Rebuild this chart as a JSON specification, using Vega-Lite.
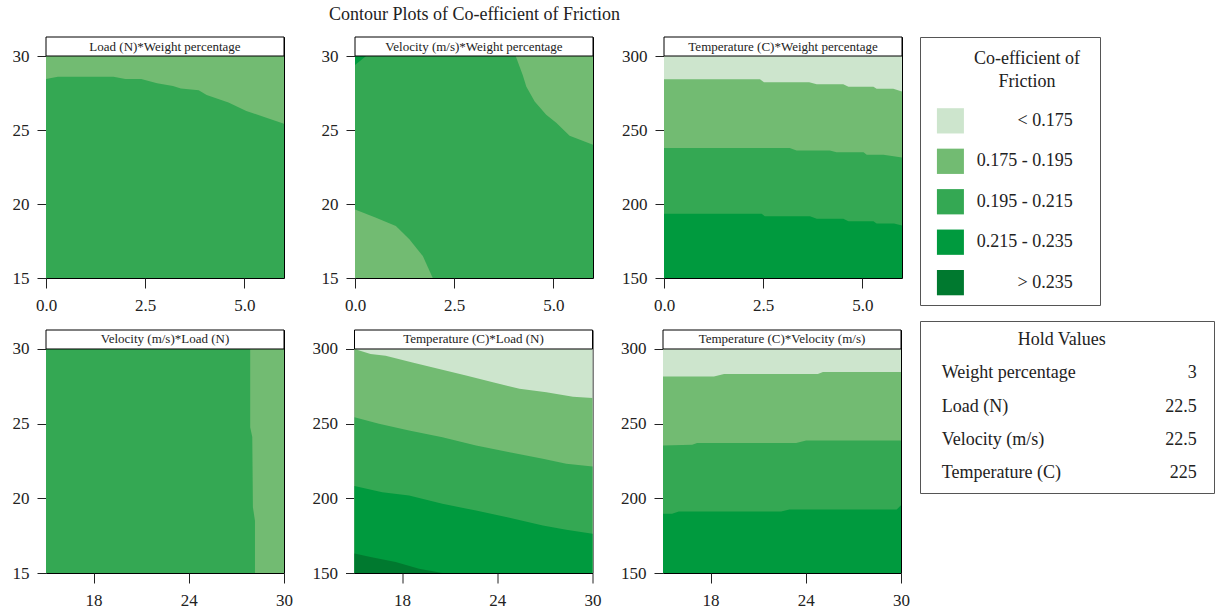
{
  "$schema": "https://vega.github.io/schema/vega-lite/v6.json",
  "background": "white",
  "padding": {"left": 0, "top": 6, "right": 0, "bottom": 0},
  "title": {"text": "Contour Plots of Co-efficient of Friction", "anchor": "middle", "dx": -133, "offset": 12, "fontSize": 18, "font": "Liberation Serif", "fontWeight": "normal", "color": "#222"},
  "config": {
    "font": "Liberation Serif",
    "view": {"stroke": "black", "strokeWidth": 1},
    "axis": {"domain": false, "grid": false, "labelFont": "Liberation Serif", "labelFontSize": 17, "labelColor": "#222", "tickColor": "#222", "tickWidth": 1, "labelFlush": false, "labelOverlap": false},
    "axisY": {"tickSize": 9, "labelPadding": 8, "minExtent": 45},
    "axisX": {"tickSize": 10, "labelPadding": 9, "minExtent": 40}
  },
  "datasets": {
    "p1": [
      {"reg": "a", "cls": "0.175 - 0.195", "x": 0, "lo": 15, "hi": 30},
      {"reg": "a", "cls": "0.175 - 0.195", "x": 6, "lo": 15, "hi": 30},
      {"reg": "b", "cls": "0.195 - 0.215", "x": 0, "lo": 15, "hi": 28.45},
      {"reg": "b", "cls": "0.195 - 0.215", "x": 0.3, "lo": 15, "hi": 28.6},
      {"reg": "b", "cls": "0.195 - 0.215", "x": 1.7, "lo": 15, "hi": 28.6},
      {"reg": "b", "cls": "0.195 - 0.215", "x": 2.0, "lo": 15, "hi": 28.45},
      {"reg": "b", "cls": "0.195 - 0.215", "x": 2.4, "lo": 15, "hi": 28.45},
      {"reg": "b", "cls": "0.195 - 0.215", "x": 2.8, "lo": 15, "hi": 28.16},
      {"reg": "b", "cls": "0.195 - 0.215", "x": 3.2, "lo": 15, "hi": 27.97},
      {"reg": "b", "cls": "0.195 - 0.215", "x": 3.4, "lo": 15, "hi": 27.8},
      {"reg": "b", "cls": "0.195 - 0.215", "x": 3.85, "lo": 15, "hi": 27.68},
      {"reg": "b", "cls": "0.195 - 0.215", "x": 4.05, "lo": 15, "hi": 27.36},
      {"reg": "b", "cls": "0.195 - 0.215", "x": 4.6, "lo": 15, "hi": 26.85},
      {"reg": "b", "cls": "0.195 - 0.215", "x": 5.05, "lo": 15, "hi": 26.28},
      {"reg": "b", "cls": "0.195 - 0.215", "x": 5.5, "lo": 15, "hi": 25.88},
      {"reg": "b", "cls": "0.195 - 0.215", "x": 6, "lo": 15, "hi": 25.43}
    ],
    "p2": [
      {"reg": "a", "cls": "0.195 - 0.215", "x": 0, "lo": 15, "hi": 30},
      {"reg": "a", "cls": "0.195 - 0.215", "x": 6, "lo": 15, "hi": 30},
      {"reg": "b", "cls": "0.175 - 0.195", "x": 4.05, "lo": 30, "hi": 30},
      {"reg": "b", "cls": "0.175 - 0.195", "x": 4.23, "lo": 28.7, "hi": 30},
      {"reg": "b", "cls": "0.175 - 0.195", "x": 4.32, "lo": 27.93, "hi": 30},
      {"reg": "b", "cls": "0.175 - 0.195", "x": 4.53, "lo": 26.92, "hi": 30},
      {"reg": "b", "cls": "0.175 - 0.195", "x": 4.82, "lo": 26.03, "hi": 30},
      {"reg": "b", "cls": "0.175 - 0.195", "x": 5.08, "lo": 25.47, "hi": 30},
      {"reg": "b", "cls": "0.175 - 0.195", "x": 5.41, "lo": 24.61, "hi": 30},
      {"reg": "b", "cls": "0.175 - 0.195", "x": 6, "lo": 24.0, "hi": 30},
      {"reg": "c", "cls": "0.175 - 0.195", "x": 0, "lo": 15, "hi": 19.63},
      {"reg": "c", "cls": "0.175 - 0.195", "x": 0.53, "lo": 15, "hi": 19.07},
      {"reg": "c", "cls": "0.175 - 0.195", "x": 1.03, "lo": 15, "hi": 18.51},
      {"reg": "c", "cls": "0.175 - 0.195", "x": 1.37, "lo": 15, "hi": 17.61},
      {"reg": "c", "cls": "0.175 - 0.195", "x": 1.71, "lo": 15, "hi": 16.48},
      {"reg": "c", "cls": "0.175 - 0.195", "x": 1.96, "lo": 15, "hi": 15},
      {"reg": "d", "cls": "0.215 - 0.235", "x": 0, "lo": 29.4, "hi": 30},
      {"reg": "d", "cls": "0.215 - 0.235", "x": 0.28, "lo": 30, "hi": 30}
    ],
    "p3": [
      {"reg": "a", "cls": "< 0.175", "x": 0, "lo": 150, "hi": 300},
      {"reg": "a", "cls": "< 0.175", "x": 6, "lo": 150, "hi": 300},
      {"reg": "b", "cls": "0.175 - 0.195", "x": 0, "lo": 150, "hi": 284.3},
      {"reg": "b", "cls": "0.175 - 0.195", "x": 2.42, "lo": 150, "hi": 284.3},
      {"reg": "b", "cls": "0.175 - 0.195", "x": 2.52, "lo": 150, "hi": 282.3},
      {"reg": "b", "cls": "0.175 - 0.195", "x": 3.66, "lo": 150, "hi": 282.3},
      {"reg": "b", "cls": "0.175 - 0.195", "x": 3.85, "lo": 150, "hi": 280.9},
      {"reg": "b", "cls": "0.175 - 0.195", "x": 4.52, "lo": 150, "hi": 280.9},
      {"reg": "b", "cls": "0.175 - 0.195", "x": 4.65, "lo": 150, "hi": 279.3},
      {"reg": "b", "cls": "0.175 - 0.195", "x": 5.28, "lo": 150, "hi": 279.3},
      {"reg": "b", "cls": "0.175 - 0.195", "x": 5.36, "lo": 150, "hi": 277.8},
      {"reg": "b", "cls": "0.175 - 0.195", "x": 5.78, "lo": 150, "hi": 277.8},
      {"reg": "b", "cls": "0.175 - 0.195", "x": 6, "lo": 150, "hi": 276.0},
      {"reg": "c", "cls": "0.195 - 0.215", "x": 0, "lo": 150, "hi": 237.8},
      {"reg": "c", "cls": "0.195 - 0.215", "x": 3.17, "lo": 150, "hi": 237.8},
      {"reg": "c", "cls": "0.195 - 0.215", "x": 3.34, "lo": 150, "hi": 236.2},
      {"reg": "c", "cls": "0.195 - 0.215", "x": 4.18, "lo": 150, "hi": 236.2},
      {"reg": "c", "cls": "0.195 - 0.215", "x": 4.35, "lo": 150, "hi": 234.9},
      {"reg": "c", "cls": "0.195 - 0.215", "x": 5.03, "lo": 150, "hi": 234.9},
      {"reg": "c", "cls": "0.195 - 0.215", "x": 5.11, "lo": 150, "hi": 233.3},
      {"reg": "c", "cls": "0.195 - 0.215", "x": 5.53, "lo": 150, "hi": 233.3},
      {"reg": "c", "cls": "0.195 - 0.215", "x": 6, "lo": 150, "hi": 231.5},
      {"reg": "d", "cls": "0.215 - 0.235", "x": 0, "lo": 150, "hi": 193.4},
      {"reg": "d", "cls": "0.215 - 0.235", "x": 2.46, "lo": 150, "hi": 193.4},
      {"reg": "d", "cls": "0.215 - 0.235", "x": 2.54, "lo": 150, "hi": 191.8},
      {"reg": "d", "cls": "0.215 - 0.235", "x": 3.68, "lo": 150, "hi": 191.8},
      {"reg": "d", "cls": "0.215 - 0.235", "x": 3.85, "lo": 150, "hi": 190.0},
      {"reg": "d", "cls": "0.215 - 0.235", "x": 4.52, "lo": 150, "hi": 190.0},
      {"reg": "d", "cls": "0.215 - 0.235", "x": 4.65, "lo": 150, "hi": 188.4},
      {"reg": "d", "cls": "0.215 - 0.235", "x": 5.28, "lo": 150, "hi": 188.4},
      {"reg": "d", "cls": "0.215 - 0.235", "x": 5.36, "lo": 150, "hi": 186.9},
      {"reg": "d", "cls": "0.215 - 0.235", "x": 5.8, "lo": 150, "hi": 186.9},
      {"reg": "d", "cls": "0.215 - 0.235", "x": 6, "lo": 150, "hi": 185.5}
    ],
    "p4": [
      {"reg": "a", "cls": "0.195 - 0.215", "y": 15, "lo": 15, "hi": 30},
      {"reg": "a", "cls": "0.195 - 0.215", "y": 30, "lo": 15, "hi": 30},
      {"reg": "b", "cls": "0.175 - 0.195", "y": 30, "lo": 27.87, "hi": 30},
      {"reg": "b", "cls": "0.175 - 0.195", "y": 24.76, "lo": 27.87, "hi": 30},
      {"reg": "b", "cls": "0.175 - 0.195", "y": 24.1, "lo": 28.0, "hi": 30},
      {"reg": "b", "cls": "0.175 - 0.195", "y": 19.41, "lo": 28.04, "hi": 30},
      {"reg": "b", "cls": "0.175 - 0.195", "y": 18.5, "lo": 28.17, "hi": 30},
      {"reg": "b", "cls": "0.175 - 0.195", "y": 15, "lo": 28.17, "hi": 30}
    ],
    "p5": [
      {"reg": "a", "cls": "< 0.175", "x": 15, "lo": 150, "hi": 300},
      {"reg": "a", "cls": "< 0.175", "x": 30, "lo": 150, "hi": 300},
      {"reg": "b", "cls": "0.175 - 0.195", "x": 15, "lo": 150, "hi": 300},
      {"reg": "b", "cls": "0.175 - 0.195", "x": 16.01, "lo": 150, "hi": 296.7},
      {"reg": "b", "cls": "0.175 - 0.195", "x": 16.96, "lo": 150, "hi": 295.5},
      {"reg": "b", "cls": "0.175 - 0.195", "x": 18.65, "lo": 150, "hi": 291.0},
      {"reg": "b", "cls": "0.175 - 0.195", "x": 20.34, "lo": 150, "hi": 286.6},
      {"reg": "b", "cls": "0.175 - 0.195", "x": 22.03, "lo": 150, "hi": 282.2},
      {"reg": "b", "cls": "0.175 - 0.195", "x": 23.72, "lo": 150, "hi": 277.7},
      {"reg": "b", "cls": "0.175 - 0.195", "x": 25.4, "lo": 150, "hi": 273.3},
      {"reg": "b", "cls": "0.175 - 0.195", "x": 27.09, "lo": 150, "hi": 271.0},
      {"reg": "b", "cls": "0.175 - 0.195", "x": 28.77, "lo": 150, "hi": 268.1},
      {"reg": "b", "cls": "0.175 - 0.195", "x": 30, "lo": 150, "hi": 267.2},
      {"reg": "c", "cls": "0.195 - 0.215", "x": 15, "lo": 150, "hi": 254.3},
      {"reg": "c", "cls": "0.195 - 0.215", "x": 16.54, "lo": 150, "hi": 249.9},
      {"reg": "c", "cls": "0.195 - 0.215", "x": 18.44, "lo": 150, "hi": 245.4},
      {"reg": "c", "cls": "0.195 - 0.215", "x": 20.54, "lo": 150, "hi": 240.9},
      {"reg": "c", "cls": "0.195 - 0.215", "x": 22.66, "lo": 150, "hi": 235.4},
      {"reg": "c", "cls": "0.195 - 0.215", "x": 24.77, "lo": 150, "hi": 230.9},
      {"reg": "c", "cls": "0.195 - 0.215", "x": 26.87, "lo": 150, "hi": 226.5},
      {"reg": "c", "cls": "0.195 - 0.215", "x": 28.35, "lo": 150, "hi": 223.1},
      {"reg": "c", "cls": "0.195 - 0.215", "x": 30, "lo": 150, "hi": 221.3},
      {"reg": "d", "cls": "0.215 - 0.235", "x": 15, "lo": 150, "hi": 208.2},
      {"reg": "d", "cls": "0.215 - 0.235", "x": 16.75, "lo": 150, "hi": 204.1},
      {"reg": "d", "cls": "0.215 - 0.235", "x": 18.44, "lo": 150, "hi": 201.9},
      {"reg": "d", "cls": "0.215 - 0.235", "x": 20.54, "lo": 150, "hi": 196.4},
      {"reg": "d", "cls": "0.215 - 0.235", "x": 22.66, "lo": 150, "hi": 191.8},
      {"reg": "d", "cls": "0.215 - 0.235", "x": 24.77, "lo": 150, "hi": 187.0},
      {"reg": "d", "cls": "0.215 - 0.235", "x": 26.87, "lo": 150, "hi": 181.8},
      {"reg": "d", "cls": "0.215 - 0.235", "x": 28.35, "lo": 150, "hi": 178.9},
      {"reg": "d", "cls": "0.215 - 0.235", "x": 30, "lo": 150, "hi": 176.3},
      {"reg": "e", "cls": "> 0.235", "x": 15, "lo": 150, "hi": 163.0},
      {"reg": "e", "cls": "> 0.235", "x": 16.01, "lo": 150, "hi": 160.7},
      {"reg": "e", "cls": "> 0.235", "x": 17.59, "lo": 150, "hi": 157.4},
      {"reg": "e", "cls": "> 0.235", "x": 19.07, "lo": 150, "hi": 152.9},
      {"reg": "e", "cls": "> 0.235", "x": 20.54, "lo": 150, "hi": 150}
    ],
    "p6": [
      {"reg": "a", "cls": "< 0.175", "x": 15, "lo": 150, "hi": 300},
      {"reg": "a", "cls": "< 0.175", "x": 30, "lo": 150, "hi": 300},
      {"reg": "b", "cls": "0.175 - 0.195", "x": 15, "lo": 150, "hi": 281.5},
      {"reg": "b", "cls": "0.175 - 0.195", "x": 18.21, "lo": 150, "hi": 281.5},
      {"reg": "b", "cls": "0.175 - 0.195", "x": 18.85, "lo": 150, "hi": 283.3},
      {"reg": "b", "cls": "0.175 - 0.195", "x": 24.76, "lo": 150, "hi": 283.3},
      {"reg": "b", "cls": "0.175 - 0.195", "x": 25.08, "lo": 150, "hi": 284.6},
      {"reg": "b", "cls": "0.175 - 0.195", "x": 30, "lo": 150, "hi": 284.6},
      {"reg": "c", "cls": "0.195 - 0.215", "x": 15, "lo": 150, "hi": 235.4},
      {"reg": "c", "cls": "0.195 - 0.215", "x": 16.84, "lo": 150, "hi": 235.8},
      {"reg": "c", "cls": "0.195 - 0.215", "x": 17.15, "lo": 150, "hi": 237.0},
      {"reg": "c", "cls": "0.195 - 0.215", "x": 23.39, "lo": 150, "hi": 237.0},
      {"reg": "c", "cls": "0.195 - 0.215", "x": 24.02, "lo": 150, "hi": 238.7},
      {"reg": "c", "cls": "0.195 - 0.215", "x": 30, "lo": 150, "hi": 238.7},
      {"reg": "d", "cls": "0.215 - 0.235", "x": 15, "lo": 150, "hi": 189.7},
      {"reg": "d", "cls": "0.215 - 0.235", "x": 15.57, "lo": 150, "hi": 189.7},
      {"reg": "d", "cls": "0.215 - 0.235", "x": 16.0, "lo": 150, "hi": 191.2},
      {"reg": "d", "cls": "0.215 - 0.235", "x": 22.44, "lo": 150, "hi": 191.2},
      {"reg": "d", "cls": "0.215 - 0.235", "x": 22.97, "lo": 150, "hi": 192.6},
      {"reg": "d", "cls": "0.215 - 0.235", "x": 29.73, "lo": 150, "hi": 192.6},
      {"reg": "d", "cls": "0.215 - 0.235", "x": 30, "lo": 150, "hi": 195.3}
    ],
    "classes": [
      {"cls": "< 0.175"},
      {"cls": "0.175 - 0.195"},
      {"cls": "0.195 - 0.215"},
      {"cls": "0.215 - 0.235"},
      {"cls": "> 0.235"}
    ],
    "hold": [
      {"name": "Weight percentage", "value": "3"},
      {"name": "Load (N)", "value": "22.5"},
      {"name": "Velocity (m/s)", "value": "22.5"},
      {"name": "Temperature (C)", "value": "225"}
    ]
  },
  "spacing": 9,
  "hconcat": [
    {
      "spacing": 10,
      "vconcat": [
        {
          "spacing": 24,
          "hconcat": [
            {
              "width": 238, "height": 241,
              "layer": [
                {"data": {"name": "p1"}, "mark": {"type": "area"},
                 "encoding": {
                   "x": {"field": "x", "type": "quantitative", "scale": {"domain": [0, 6], "nice": false, "zero": false}, "axis": {"values": [0, 2.5, 5], "format": ".1f", "title": null}},
                   "y": {"field": "hi", "type": "quantitative", "scale": {"domain": [15, 31.284], "nice": false, "zero": false}, "axis": {"values": [15, 20, 25, 30], "title": null}},
                   "y2": {"field": "lo"},
                   "color": {"field": "cls", "type": "nominal", "scale": {"domain": ["< 0.175", "0.175 - 0.195", "0.195 - 0.215", "0.215 - 0.235", "> 0.235"], "range": ["#cde5cd", "#72bb72", "#34a853", "#009a3e", "#00792f"]}, "legend": null},
                   "detail": {"field": "reg"}}},
                {"data": {"values": [{"label": "Load (N)*Weight percentage"}]}, "mark": {"type": "rect", "fill": "white", "stroke": "black", "strokeWidth": 1},
                 "encoding": {"x": {"datum": 0, "axis": {"title": null}}, "x2": {"datum": 6}, "y": {"datum": 30, "axis": {"title": null}}, "y2": {"datum": 31.284}}},
                {"data": {"values": [{"label": "Load (N)*Weight percentage"}]}, "mark": {"type": "text", "font": "Liberation Serif", "fontSize": 13, "color": "#222", "baseline": "middle"},
                 "encoding": {"x": {"datum": 3, "axis": {"title": null}}, "y": {"datum": 30.642, "axis": {"title": null}}, "text": {"field": "label"}}}
              ]
            },
            {
              "width": 238, "height": 241,
              "layer": [
                {"data": {"name": "p2"}, "mark": {"type": "area"},
                 "encoding": {
                   "x": {"field": "x", "type": "quantitative", "scale": {"domain": [0, 6], "nice": false, "zero": false}, "axis": {"values": [0, 2.5, 5], "format": ".1f", "title": null}},
                   "y": {"field": "hi", "type": "quantitative", "scale": {"domain": [15, 31.284], "nice": false, "zero": false}, "axis": {"values": [15, 20, 25, 30], "title": null}},
                   "y2": {"field": "lo"},
                   "color": {"field": "cls", "type": "nominal", "scale": {"domain": ["< 0.175", "0.175 - 0.195", "0.195 - 0.215", "0.215 - 0.235", "> 0.235"], "range": ["#cde5cd", "#72bb72", "#34a853", "#009a3e", "#00792f"]}, "legend": null},
                   "detail": {"field": "reg"}}},
                {"data": {"values": [{"label": "Velocity (m/s)*Weight percentage"}]}, "mark": {"type": "rect", "fill": "white", "stroke": "black", "strokeWidth": 1},
                 "encoding": {"x": {"datum": 0, "axis": {"title": null}}, "x2": {"datum": 6}, "y": {"datum": 30, "axis": {"title": null}}, "y2": {"datum": 31.284}}},
                {"data": {"values": [{"label": "Velocity (m/s)*Weight percentage"}]}, "mark": {"type": "text", "font": "Liberation Serif", "fontSize": 13, "color": "#222", "baseline": "middle"},
                 "encoding": {"x": {"datum": 3, "axis": {"title": null}}, "y": {"datum": 30.642, "axis": {"title": null}}, "text": {"field": "label"}}}
              ]
            },
            {
              "width": 238, "height": 241,
              "layer": [
                {"data": {"name": "p3"}, "mark": {"type": "area"},
                 "encoding": {
                   "x": {"field": "x", "type": "quantitative", "scale": {"domain": [0, 6], "nice": false, "zero": false}, "axis": {"values": [0, 2.5, 5], "format": ".1f", "title": null}},
                   "y": {"field": "hi", "type": "quantitative", "scale": {"domain": [150, 312.84], "nice": false, "zero": false}, "axis": {"values": [150, 200, 250, 300], "title": null}},
                   "y2": {"field": "lo"},
                   "color": {"field": "cls", "type": "nominal", "scale": {"domain": ["< 0.175", "0.175 - 0.195", "0.195 - 0.215", "0.215 - 0.235", "> 0.235"], "range": ["#cde5cd", "#72bb72", "#34a853", "#009a3e", "#00792f"]}, "legend": null},
                   "detail": {"field": "reg"}}},
                {"data": {"values": [{"label": "Temperature (C)*Weight percentage"}]}, "mark": {"type": "rect", "fill": "white", "stroke": "black", "strokeWidth": 1},
                 "encoding": {"x": {"datum": 0, "axis": {"title": null}}, "x2": {"datum": 6}, "y": {"datum": 300, "axis": {"title": null}}, "y2": {"datum": 312.84}}},
                {"data": {"values": [{"label": "Temperature (C)*Weight percentage"}]}, "mark": {"type": "text", "font": "Liberation Serif", "fontSize": 13, "color": "#222", "baseline": "middle"},
                 "encoding": {"x": {"datum": 3, "axis": {"title": null}}, "y": {"datum": 306.42, "axis": {"title": null}}, "text": {"field": "label"}}}
              ]
            }
          ]
        },
        {
          "spacing": 15.5,
          "hconcat": [
            {
              "width": 238, "height": 243,
              "layer": [
                {"data": {"name": "p4"}, "mark": {"type": "area", "orient": "horizontal"},
                 "encoding": {
                   "y": {"field": "y", "type": "quantitative", "scale": {"domain": [15, 31.272], "nice": false, "zero": false}, "axis": {"values": [15, 20, 25, 30], "title": null}},
                   "x": {"field": "lo", "type": "quantitative", "scale": {"domain": [15, 30], "nice": false, "zero": false}, "axis": {"values": [18, 24, 30], "title": null}},
                   "x2": {"field": "hi"},
                   "color": {"field": "cls", "type": "nominal", "scale": {"domain": ["< 0.175", "0.175 - 0.195", "0.195 - 0.215", "0.215 - 0.235", "> 0.235"], "range": ["#cde5cd", "#72bb72", "#34a853", "#009a3e", "#00792f"]}, "legend": null},
                   "detail": {"field": "reg"}}},
                {"data": {"values": [{"label": "Velocity (m/s)*Load (N)"}]}, "mark": {"type": "rect", "fill": "white", "stroke": "black", "strokeWidth": 1},
                 "encoding": {"x": {"datum": 15, "axis": {"title": null}}, "x2": {"datum": 30}, "y": {"datum": 30, "axis": {"title": null}}, "y2": {"datum": 31.272}}},
                {"data": {"values": [{"label": "Velocity (m/s)*Load (N)"}]}, "mark": {"type": "text", "font": "Liberation Serif", "fontSize": 13, "color": "#222", "baseline": "middle"},
                 "encoding": {"x": {"datum": 22.5, "axis": {"title": null}}, "y": {"datum": 30.636, "axis": {"title": null}}, "text": {"field": "label"}}}
              ]
            },
            {
              "width": 238, "height": 243,
              "layer": [
                {"data": {"name": "p5"}, "mark": {"type": "area"},
                 "encoding": {
                   "x": {"field": "x", "type": "quantitative", "scale": {"domain": [15, 30], "nice": false, "zero": false}, "axis": {"values": [18, 24, 30], "title": null}},
                   "y": {"field": "hi", "type": "quantitative", "scale": {"domain": [150, 312.72], "nice": false, "zero": false}, "axis": {"values": [150, 200, 250, 300], "title": null}},
                   "y2": {"field": "lo"},
                   "color": {"field": "cls", "type": "nominal", "scale": {"domain": ["< 0.175", "0.175 - 0.195", "0.195 - 0.215", "0.215 - 0.235", "> 0.235"], "range": ["#cde5cd", "#72bb72", "#34a853", "#009a3e", "#00792f"]}, "legend": null},
                   "detail": {"field": "reg"}}},
                {"data": {"values": [{"label": "Temperature (C)*Load (N)"}]}, "mark": {"type": "rect", "fill": "white", "stroke": "black", "strokeWidth": 1},
                 "encoding": {"x": {"datum": 15, "axis": {"title": null}}, "x2": {"datum": 30}, "y": {"datum": 300, "axis": {"title": null}}, "y2": {"datum": 312.72}}},
                {"data": {"values": [{"label": "Temperature (C)*Load (N)"}]}, "mark": {"type": "text", "font": "Liberation Serif", "fontSize": 13, "color": "#222", "baseline": "middle"},
                 "encoding": {"x": {"datum": 22.5, "axis": {"title": null}}, "y": {"datum": 306.36, "axis": {"title": null}}, "text": {"field": "label"}}}
              ]
            },
            {
              "width": 238, "height": 243,
              "layer": [
                {"data": {"name": "p6"}, "mark": {"type": "area"},
                 "encoding": {
                   "x": {"field": "x", "type": "quantitative", "scale": {"domain": [15, 30], "nice": false, "zero": false}, "axis": {"values": [18, 24, 30], "title": null}},
                   "y": {"field": "hi", "type": "quantitative", "scale": {"domain": [150, 312.72], "nice": false, "zero": false}, "axis": {"values": [150, 200, 250, 300], "title": null}},
                   "y2": {"field": "lo"},
                   "color": {"field": "cls", "type": "nominal", "scale": {"domain": ["< 0.175", "0.175 - 0.195", "0.195 - 0.215", "0.215 - 0.235", "> 0.235"], "range": ["#cde5cd", "#72bb72", "#34a853", "#009a3e", "#00792f"]}, "legend": null},
                   "detail": {"field": "reg"}}},
                {"data": {"values": [{"label": "Temperature (C)*Velocity (m/s)"}]}, "mark": {"type": "rect", "fill": "white", "stroke": "black", "strokeWidth": 1},
                 "encoding": {"x": {"datum": 15, "axis": {"title": null}}, "x2": {"datum": 30}, "y": {"datum": 300, "axis": {"title": null}}, "y2": {"datum": 312.72}}},
                {"data": {"values": [{"label": "Temperature (C)*Velocity (m/s)"}]}, "mark": {"type": "text", "font": "Liberation Serif", "fontSize": 13, "color": "#222", "baseline": "middle"},
                 "encoding": {"x": {"datum": 22.5, "axis": {"title": null}}, "y": {"datum": 306.36, "axis": {"title": null}}, "text": {"field": "label"}}}
              ]
            }
          ]
        }
      ]
    },
    {
      "spacing": 14,
      "vconcat": [
        {
          "width": 180, "height": 268,
          "view": {"stroke": "#555", "strokeWidth": 1},
          "title": {"text": ["Co-efficient of", "Friction"], "anchor": "middle", "offset": -54, "dx": 17, "fontSize": 18, "lineHeight": 23, "font": "Liberation Serif", "fontWeight": "normal", "color": "#222"},
          "data": {"name": "classes"},
          "encoding": {
            "y": {"field": "cls", "type": "nominal", "scale": {"domain": ["< 0.175", "0.175 - 0.195", "0.195 - 0.215", "0.215 - 0.235", "> 0.235"], "paddingInner": 0.375, "paddingOuter": 1.0375, "align": 0.88}, "axis": null}
          },
          "layer": [
            {"mark": {"type": "rect"},
             "encoding": {
               "x": {"datum": 0.094, "type": "quantitative", "scale": {"domain": [0, 1], "nice": false, "zero": false}, "axis": null},
               "x2": {"datum": 0.244},
               "color": {"field": "cls", "type": "nominal", "scale": {"domain": ["< 0.175", "0.175 - 0.195", "0.195 - 0.215", "0.215 - 0.235", "> 0.235"], "range": ["#cde5cd", "#72bb72", "#34a853", "#009a3e", "#00792f"]}, "legend": null}}},
            {"mark": {"type": "text", "align": "right", "baseline": "middle", "font": "Liberation Serif", "fontSize": 18, "color": "#222"},
             "encoding": {"x": {"datum": 0.848, "type": "quantitative", "axis": null}, "text": {"field": "cls"}}}
          ]
        },
        {
          "width": 294, "height": 172,
          "view": {"stroke": "#555", "strokeWidth": 1},
          "data": {"name": "hold"},
          "encoding": {
            "y": {"field": "name", "type": "nominal", "scale": {"type": "point", "domain": ["Hold Values", "Weight percentage", "Load (N)", "Velocity (m/s)", "Temperature (C)"], "padding": 0.587, "align": 0.49}, "axis": null}
          },
          "layer": [
            {"data": {"values": [{"name": "Hold Values"}]},
             "mark": {"type": "text", "align": "center", "baseline": "middle", "font": "Liberation Serif", "fontSize": 18, "color": "#222"},
             "encoding": {"x": {"datum": 0.482, "type": "quantitative", "scale": {"domain": [0, 1], "nice": false, "zero": false}, "axis": null}, "text": {"field": "name"}}},
            {"mark": {"type": "text", "align": "left", "baseline": "middle", "font": "Liberation Serif", "fontSize": 18, "color": "#222"},
             "encoding": {"x": {"datum": 0.074, "type": "quantitative", "axis": null}, "text": {"field": "name"}}},
            {"mark": {"type": "text", "align": "right", "baseline": "middle", "font": "Liberation Serif", "fontSize": 18, "color": "#222"},
             "encoding": {"x": {"datum": 0.941, "type": "quantitative", "axis": null}, "text": {"field": "value"}}}
          ]
        }
      ]
    }
  ]
}
